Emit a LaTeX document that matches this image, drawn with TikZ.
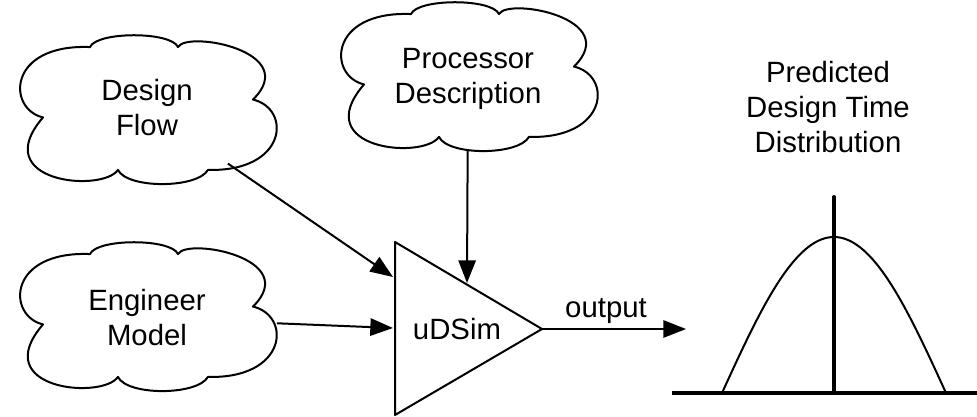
\documentclass[tikz,border=0pt]{standalone}
\usepackage{fontspec}
\setmainfont{Liberation Sans}
\usetikzlibrary{arrows.meta,shapes.geometric}
\tikzset{
  lineA/.style={line width=1.5pt, line join=round},
  cloudnode/.style={ellipse, minimum width=195pt, minimum height=106pt, inner sep=0pt, align=center},
  txt/.style={inner sep=0pt, align=center},
  arr/.style={lineA, -{Triangle[length=17pt,width=13pt]}},
  heavy/.style={line width=3pt},
}
\newcommand{\mycloudshape}[1]{%
  \draw[lineA, shift={#1}, yscale=1.05] (-104,8) .. controls (-140,0) and (-140,-62) .. (-57,-59)
    .. controls (-50,-74) and (24,-74) .. (31,-59)
    .. controls (40,-75) and (155,-55) .. (106,-9)
    .. controls (145,0) and (140,60) .. (61,58)
    .. controls (50,76) and (-20,76) .. (-29,58)
    .. controls (-45,80) and (-160,70) .. cycle;}
\begin{document}
\begin{tikzpicture}[x=0.75pt, y=-0.75pt, font=\fontsize{22pt}{26.25pt}\selectfont]
\useasboundingbox (0,0) rectangle (977,417);
% clouds
\mycloudshape{(147,109)}
\mycloudshape{(147,316)}
\mycloudshape{(468,76)}
\node[cloudnode] (df) at (147,108) {Design\\Flow};
\node[cloudnode] (em) at (147,318) {Engineer\\Model};
\node[cloudnode] (pd) at (468,79) {Processor\\Description};
% triangle
\coordinate (t1) at (395,242);
\coordinate (t2) at (395,415);
\coordinate (t3) at (542,329);
\draw[lineA] (t1) -- (t2) -- (t3) -- cycle;
\node[txt] (ud) at (457,329) {uDSim};
% input arrows
\coordinate (a1) at (393,277);
\coordinate (a2) at (393,328);
\coordinate (a3) at (467,283);
\draw[arr] (df) -- (a1);
\draw[arr] (em) -- (a2);
\draw[arr] (pd) -- (a3);
% output
\coordinate (oe) at (686,329);
\draw[arr] (t3) -- (oe);
\node[txt, anchor=base] (ol) at (606,317) {output};
% distribution
\node[txt] (title) at (828,107) {Predicted\\Design Time\\Distribution};
\coordinate (b1) at (672,393);
\coordinate (b2) at (977,393);
\coordinate (v1) at (834,197);
\coordinate (v2) at (834,393);
\draw[heavy] (b1) -- (b2);
\draw[heavy, line cap=round] (v1) -- (v2);
\draw[lineA] plot[domain=-112:112, samples=80, smooth] ({834+\x}, {393-156*cos(90*\x/112)});
\end{tikzpicture}
\end{document}
